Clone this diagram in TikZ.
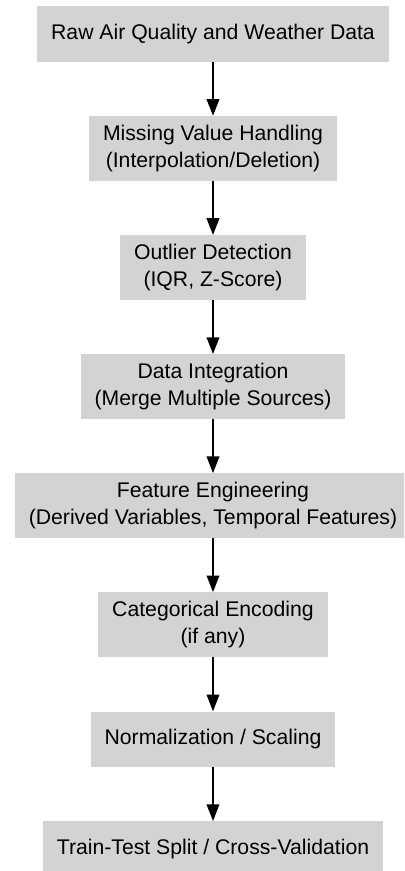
\documentclass[tikz,border=0pt]{standalone}
\usepackage{fontspec}
\setmainfont{Liberation Sans}
\usepackage{tikz}
\usetikzlibrary{positioning,arrows.meta}
\definecolor{boxgray}{RGB}{211,211,211}

\begin{document}
\begin{tikzpicture}[x=0.75pt,y=-0.75pt,node distance=40.4pt,
box/.style={fill=boxgray,align=center,inner xsep=10.5pt,inner ysep=6.6pt,minimum height=41.5pt,font=\fontsize{15.9}{20.5}\selectfont},
flow/.style={-{Triangle[length=12.5pt,width=9.5pt]},line width=1.1pt}]
\clip(0,0)rectangle(404,871);
\node[box](raw)at(213,34){Raw Air Quality and Weather Data};
\node[box,below=of raw](missing){Missing Value Handling\\(Interpolation/Deletion)};
\node[box,below=of missing](outlier){Outlier Detection\\(IQR, Z-Score)};
\node[box,below=of outlier](integ){Data Integration\\(Merge Multiple Sources)};
\node[box,below=of integ](feat){Feature Engineering\\(Derived Variables, Temporal Features)};
\node[box,below=of feat](encode){Categorical Encoding\\(if any)};
\node[box,below=of encode](norm){Normalization / Scaling};
\node[box,below=of norm](split){Train-Test Split / Cross-Validation};
\draw[flow](raw)--(missing);
\draw[flow](missing)--(outlier);
\draw[flow](outlier)--(integ);
\draw[flow](integ)--(feat);
\draw[flow](feat)--(encode);
\draw[flow](encode)--(norm);
\draw[flow](norm)--(split);
\end{tikzpicture}
\end{document}
